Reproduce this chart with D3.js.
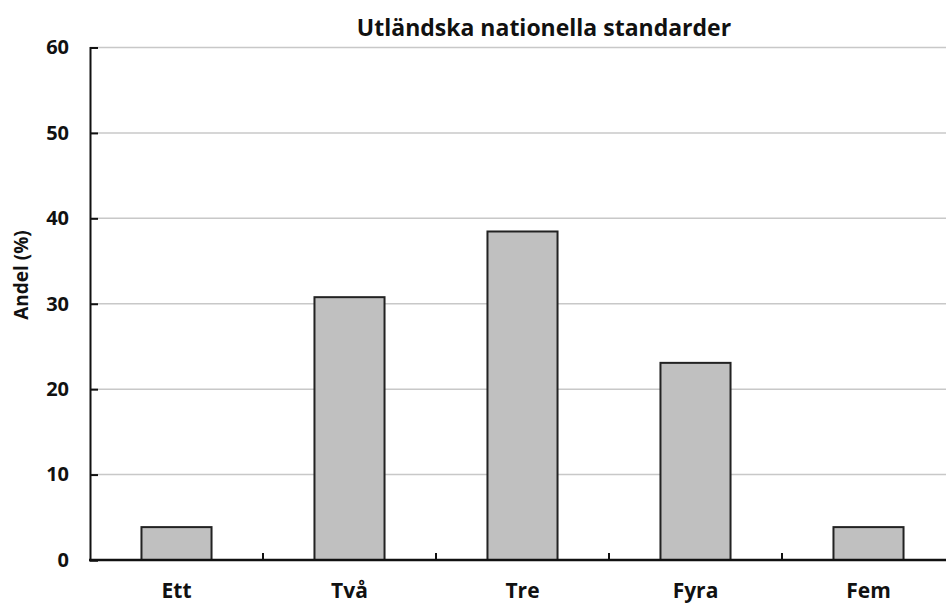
<!DOCTYPE html>
<html>
<head>
<meta charset="utf-8">
<script src="https://cdn.jsdelivr.net/npm/d3@7"></script>
<style>
  body { margin: 0; background: #fff; }
  text { font-family: "Open Sans", "Noto Sans", sans-serif; font-weight: bold; fill: #111; }
</style>
</head>
<body>
<div id="main"></div>
<script>
/* Data */
const categories = ['Ett', 'Två', 'Tre', 'Fyra', 'Fem'];
const values = [3.85, 30.77, 38.46, 23.08, 3.85];
const yTicks = [0, 10, 20, 30, 40, 50, 60];
const title = 'Utländska nationella standarder';
const yLabel = 'Andel (%)';

/* Layout */
const svgWidth = 946;
const svgHeight = 604;
const margin = { t: 47.5, r: -9, b: 44, l: 90 };
const plotW = svgWidth - margin.l - margin.r;
const plotH = svgHeight - margin.t - margin.b;

const svg = d3.select('#main')
  .append('svg')
  .attr('width', svgWidth)
  .attr('height', svgHeight);

const x = d3.scaleBand()
  .domain(categories)
  .range([0, plotW])
  .paddingInner(0.595)
  .paddingOuter(0.2975);

const bandStep = plotW / categories.length;

const y = d3.scaleLinear()
  .domain([0, 60])
  .range([plotH, 0]);

const g = svg.append('g')
  .attr('transform', `translate(${margin.l},${margin.t})`);

// gridlines
g.selectAll('.grid')
  .data(yTicks.filter(d => d > 0))
  .enter().append('line')
  .attr('x1', 0)
  .attr('x2', plotW)
  .attr('y1', d => y(d))
  .attr('y2', d => y(d))
  .attr('stroke', '#c8c8c8')
  .attr('stroke-width', 1.5);

// bars
g.selectAll('.bar')
  .data(values)
  .enter().append('rect')
  .attr('class', 'bar')
  .attr('x', (d, i) => x(categories[i]))
  .attr('y', d => y(d))
  .attr('width', x.bandwidth())
  .attr('height', d => plotH - y(d))
  .attr('fill', '#c0c0c0')
  .attr('stroke', '#222')
  .attr('stroke-width', 2);

// y axis
const yAxis = d3.axisRight(y)
  .tickValues(yTicks)
  .tickSize(8)
  .tickFormat(d3.format('d'));

const gY = g.append('g').call(yAxis);
gY.selectAll('line').attr('stroke', '#111').attr('stroke-width', 2);
gY.select('.domain').attr('stroke', '#111').attr('stroke-width', 2);
gY.selectAll('text')
  .attr('x', -21)
  .attr('text-anchor', 'end')
  .style('font-size', '20px');

// x axis baseline and category separators
g.append('line')
  .attr('x1', -1).attr('x2', plotW)
  .attr('y1', plotH).attr('y2', plotH)
  .attr('stroke', '#111').attr('stroke-width', 2.5);

g.selectAll('.sep')
  .data(categories.slice(1))
  .enter().append('line')
  .attr('x1', (d, i) => (i + 1) * bandStep)
  .attr('x2', (d, i) => (i + 1) * bandStep)
  .attr('y1', plotH)
  .attr('y2', plotH - 7)
  .attr('stroke', '#111')
  .attr('stroke-width', 2);

g.selectAll('.xlabel')
  .data(categories)
  .enter().append('text')
  .attr('x', d => x(d) + x.bandwidth() / 2)
  .attr('y', plotH + 38)
  .attr('text-anchor', 'middle')
  .style('font-size', '21px')
  .text(d => d);

// title
svg.append('text')
  .attr('x', 544)
  .attr('y', 36)
  .attr('text-anchor', 'middle')
  .style('font-size', '23px')
  .text(title);

// y label
svg.append('text')
  .attr('transform', 'translate(28,275) rotate(-90)')
  .attr('text-anchor', 'middle')
  .style('font-size', '19px')
  .text(yLabel);
</script>
</body>
</html>
